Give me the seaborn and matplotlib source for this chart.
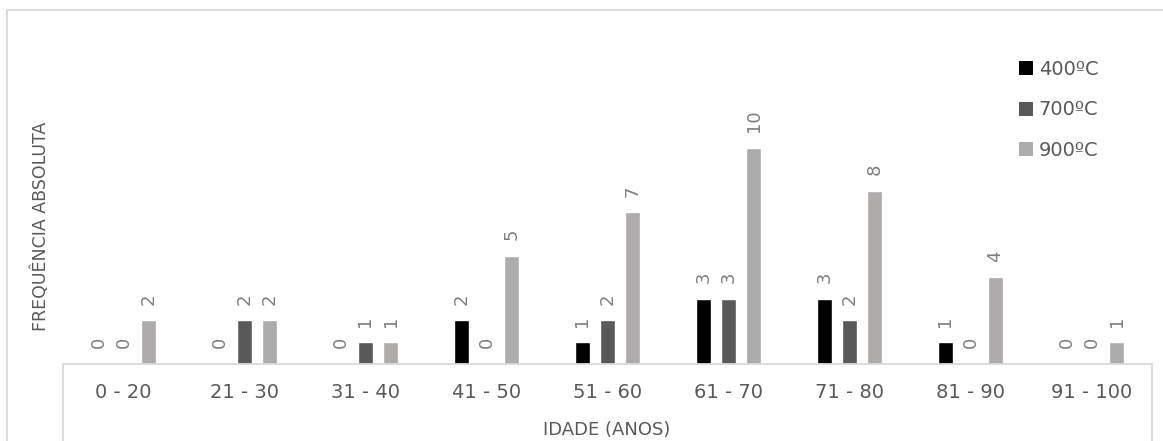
import matplotlib
matplotlib.use("Agg")
import matplotlib.pyplot as plt
from matplotlib.patches import Rectangle, Patch
import pandas as pd
import seaborn as sns

# Age classes and absolute frequencies per cremation temperature
faixas = ["0 - 20", "21 - 30", "31 - 40", "41 - 50", "51 - 60",
          "61 - 70", "71 - 80", "81 - 90", "91 - 100"]
temperaturas = ["400ºC", "700ºC", "900ºC"]
freq_400 = [0, 0, 0, 2, 1, 3, 3, 1, 0]
freq_700 = [0, 2, 1, 0, 2, 3, 2, 0, 0]
freq_900 = [2, 2, 1, 5, 7, 10, 8, 4, 1]
cores = ["#000000", "#595959", "#AEABAB"]

df = pd.DataFrame({
    "faixa": faixas * 3,
    "temp": [t for t in temperaturas for _ in faixas],
    "freq": freq_400 + freq_700 + freq_900,
})

sns.set_theme(style="white")
plt.rcParams["font.family"] = ["DejaVu Sans"]

W, H = 1163, 441
fig = plt.figure(figsize=(W / 100, H / 100), dpi=100)
ax = fig.add_axes([63 / W, (H - 363.5) / H, (1152 - 63) / W, 259.2 / H])

sns.barplot(data=df, x="faixa", y="freq", hue="temp", order=faixas,
            hue_order=temperaturas, palette=cores, width=0.62, gap=0.42,
            saturation=1, ax=ax)

ax.set_ylim(0, 12)
ax.set_xlim(-0.5, len(faixas) - 0.5)
for s in ax.spines.values():
    s.set_visible(False)
ax.set_yticks([])
ax.set_xlabel("")
ax.set_ylabel("")
ax.tick_params(axis="x", length=0, pad=14, labelsize=14, labelcolor="#595959")

# value labels above each bar
for cont in ax.containers:
    ax.bar_label(cont, fmt="{:.0f}", rotation=90, padding=11,
                 fontsize=13, color="#7F7F7F")

# legend
handles = [Patch(facecolor=c, edgecolor="none") for c in cores]
ax.get_legend().remove()
fig.legend(handles, temperaturas, loc="upper left",
           bbox_to_anchor=(1019 / W, (H - 60) / H), frameon=False,
           fontsize=14, labelcolor="#595959", handlelength=0.72,
           handleheight=0.72, handletextpad=0.3, labelspacing=1.1,
           borderpad=0, borderaxespad=0)

# outer chart border and the category axis box
grid = "#D9D9D9"
fig.patches.append(Rectangle((7 / W, -0.1), (W + 50) / W, (H - 10) / H + 0.1,
                             transform=fig.transFigure, fill=False,
                             edgecolor=grid, lw=1.3))
fig.patches.append(Rectangle((63 / W, -0.1), (1152 - 63) / W,
                             (H - 363.5) / H + 0.1,
                             transform=fig.transFigure, fill=False,
                             edgecolor=grid, lw=1.3))

fig.text(41 / W, (H - 226) / H, "FREQUÊNCIA ABSOLUTA", rotation=90,
         ha="center", va="center", fontsize=12.5, color="#595959",
         family=["Liberation Sans Narrow", "DejaVu Sans"])
fig.text(607 / W, (H - 421) / H, "IDADE (ANOS)", ha="center", va="top",
         fontsize=13, color="#595959")

fig.savefig("out.png", dpi=100)
